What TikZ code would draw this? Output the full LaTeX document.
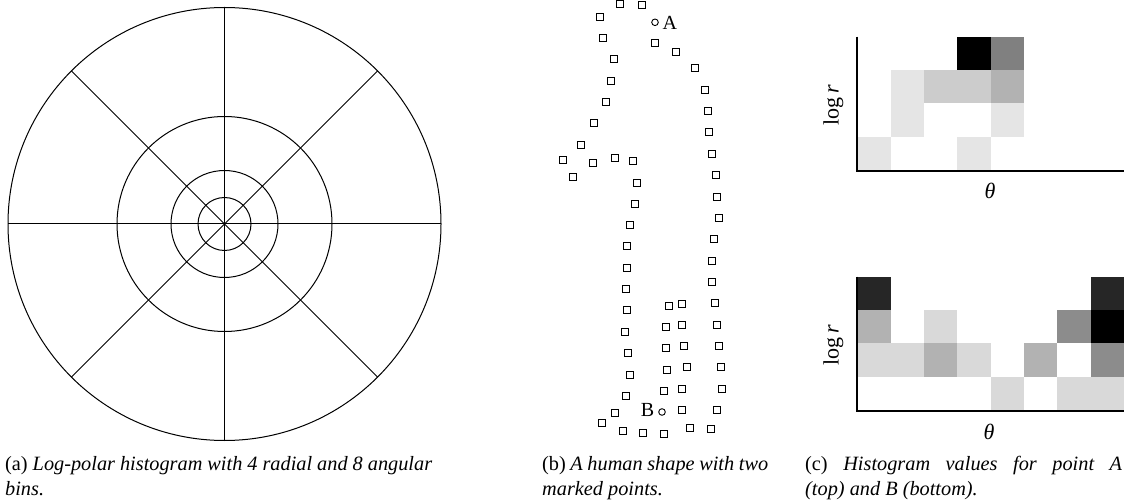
\documentclass[tikz,border=0pt]{standalone}
\usepackage{fontspec}
\setmainfont{Liberation Serif}
\begin{document}
\begin{tikzpicture}[x=1pt,y=-1pt,
  polar/.style={line width=1pt},
  marker/.style={draw,line width=0.9pt},
  axis/.style={line width=2pt},
  caption/.style={anchor=base west,inner sep=0pt,align=left,font=\fontsize{20.3}{24.8}\selectfont},
  ptlabel/.style={inner sep=0pt,font=\fontsize{20}{24}\selectfont},
  axlabel/.style={inner sep=0pt,font=\fontsize{22}{26}\selectfont},
  ringpt/.style={circle,draw,line width=0.9pt,minimum size=6.6pt,inner sep=0pt}]
\useasboundingbox (0,0) rectangle (1126,502);
% ---------- (a) log-polar grid ----------
\coordinate (O) at (224.5,224);
\foreach \r in {216.5,107.5,53.5,26.5} \draw[polar] (O) circle[radius=\r];
\foreach \a in {0,45,...,315} \draw[polar] (O) -- ++(\a:216.5);
% ---------- (b) human shape ----------
\foreach \x/\y in {620/4.3,641.7/5,600.3/17.3,602.7/38.3,655/43,676.3/52.3,614/59,695.3/68,610.7/80.7,704.7/89.7,606/102.3,707.7/110.7,593.7/123.3,709.3/132,580.7/144.7,712.3/153.7,562.7/159.7,593/163.3,614.7/158.3,633/160.7,573/176.7,715.7/174.7,637/182.7,717/196.7,634.5/203.5,719/217.5,
629.7/225,714/239,627.3/246,712.3/260.7,627.3/267.7,711.7/281.7,625.7/289,714.7/303.3,668.7/306,681.7/303.7,627/310.3,665.7/327,682.3/325,717/324.7,625.3/332,665.7/348,684.3/346,719.3/345.7,628/353,666.7/369.7,686.7/367.3,721.3/366.7,629.7/374.7,663.7/391,682.3/388.7,721.7/389,625.7/395.7,682/410,717/410,615.3/412.7,602/422.7,622.7/430.7,643.3/433.3,664.3/434,690.3/427.7,711.3/428.7}
  \draw[marker] (\x-3.5,\y-3.5) rectangle (\x+3.5,\y+3.5);
\node[ringpt] (ptA) at (655,22.3) {};
\node[ptlabel,anchor=west] (labA) at (662.5,23) {A};
\node[ringpt] (ptB) at (662,412) {};
\node[ptlabel,anchor=east] (labB) at (654.5,410) {B};
% ---------- (c) histograms ----------
\def\cw{33.33}
% top histogram (point A); column/row index from 0, rows from top
\foreach \c/\r/\g in {3/0/100,4/0/50,1/1/10,2/1/20,3/1/20,4/1/30,1/2/10,4/2/10,0/3/10,3/3/10}
  \fill[black!\g] (857.3+\c*\cw,36.7+\r*\cw) rectangle ++(\cw,\cw);
\coordinate (topO) at (857.3,170.7);
\draw[axis] (857.3,36.7) -- (topO) -- (1124,170.7);
\node[axlabel,rotate=90] (topy) at (833.3,105) {log\,\textit{r}};
\node[axlabel] (topx) at (990,190.7) {\textit{θ}};
% bottom histogram (point B)
\foreach \c/\r/\g in {0/0/85,7/0/85,0/1/30,2/1/15,6/1/45,7/1/100,0/2/15,1/2/15,2/2/30,3/2/15,5/2/30,7/2/45,4/3/15,6/3/15,7/3/15}
  \fill[black!\g] (857.3+\c*\cw,276.7+\r*\cw) rectangle ++(\cw,\cw);
\coordinate (botO) at (857.3,410.7);
\draw[axis] (857.3,276.7) -- (botO) -- (1124,410.7);
\node[axlabel,rotate=90] (boty) at (833.3,345) {log\,\textit{r}};
\node[axlabel] (botx) at (989,431.7) {\textit{θ}};
% ---------- captions (base anchor = baseline of the last line) ----------
\node[caption] (capA) at (5,495) {\makebox[427pt][s]{(a) \textit{Log-polar histogram with 4 radial and 8 angular}}\\\textit{bins.}};
\node[caption] (capB) at (542,495) {\makebox[226pt][s]{(b) \textit{A human shape with two}}\\\textit{marked points.}};
\node[caption] (capC) at (805,495) {\makebox[317pt][s]{(c) \textit{Histogram values for point A}}\\\textit{(top) and B (bottom).}};
\end{tikzpicture}
\end{document}
